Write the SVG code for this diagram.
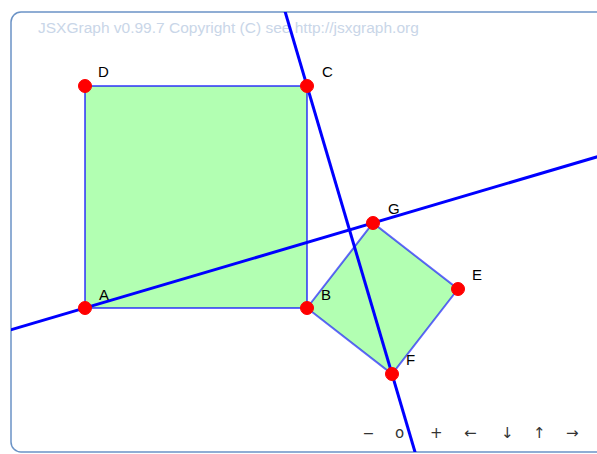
<svg xmlns="http://www.w3.org/2000/svg" width="597" height="454" viewBox="0 0 597 454">
<style>
.poly{fill:#00ff00;fill-opacity:0.3;stroke:none}
.edge{stroke:#0000ff;stroke-opacity:0.6;stroke-width:2;fill:none}
.line{stroke:#0000ff;stroke-width:3;fill:none}
.pt{fill:#ff0000;stroke:#ff0000;stroke-width:1}
.lbl{font-family:"Liberation Sans",Arial,sans-serif;font-size:15px;fill:#000}
.nav{font-family:"DejaVu Sans","Liberation Sans",sans-serif;font-size:15px;fill:#333}
.navl{font-family:"Liberation Sans",Arial,sans-serif;font-size:16px;fill:#333}
.copy{font-family:"Liberation Sans",Arial,sans-serif;font-size:15.5px;fill:#c9d6e8}
</style>
<defs>
<clipPath id="board"><rect x="11" y="12" width="598" height="440" rx="10"/></clipPath>
</defs>
<rect x="11" y="12" width="598" height="440" rx="10" fill="#fff" stroke="#6b93c6" stroke-width="1.5"/>
<text class="copy" x="38" y="33">JSXGraph v0.99.7 Copyright (C) see http://jsxgraph.org</text>
<g id="square1">
<polygon class="poly" points="85,308 307,308 307,86 85,86"/>
<polygon class="edge" points="85,308 307,308 307,86 85,86"/>
</g>
<g id="square2">
<polygon class="poly" points="307,308 392,374 458,289 373,223"/>
<polygon class="edge" points="307,308 392,374 458,289 373,223"/>
</g>
<g id="connectors" clip-path="url(#board)">
<line class="line" x1="10" y1="330.1" x2="600" y2="156"/>
<line class="line" x1="284.9" y1="11" x2="415.6" y2="454"/>
</g>
<g id="A"><circle class="pt" cx="85" cy="308" r="6.5"/><text class="lbl" x="99" y="300">A</text></g>
<g id="B"><circle class="pt" cx="307" cy="308" r="6.5"/><text class="lbl" x="321" y="300">B</text></g>
<g id="C"><circle class="pt" cx="307" cy="86" r="6.5"/><text class="lbl" x="322" y="77">C</text></g>
<g id="D"><circle class="pt" cx="85" cy="86" r="6.5"/><text class="lbl" x="98" y="77">D</text></g>
<g id="E"><circle class="pt" cx="458" cy="289" r="6.5"/><text class="lbl" x="472" y="280">E</text></g>
<g id="F"><circle class="pt" cx="392" cy="374" r="6.5"/><text class="lbl" x="406" y="365">F</text></g>
<g id="G"><circle class="pt" cx="373" cy="223" r="6.5"/><text class="lbl" x="388" y="214">G</text></g>
<g id="navigation">
<text class="navl" x="364" y="438">–</text>
<text class="nav" x="395" y="438">o</text>
<text class="nav" x="430" y="438">+</text>
<text class="nav" x="464" y="438">←</text>
<text class="nav" x="501" y="438">↓</text>
<text class="nav" x="533" y="438">↑</text>
<text class="nav" x="566" y="438">→</text>
</g>
</svg>
